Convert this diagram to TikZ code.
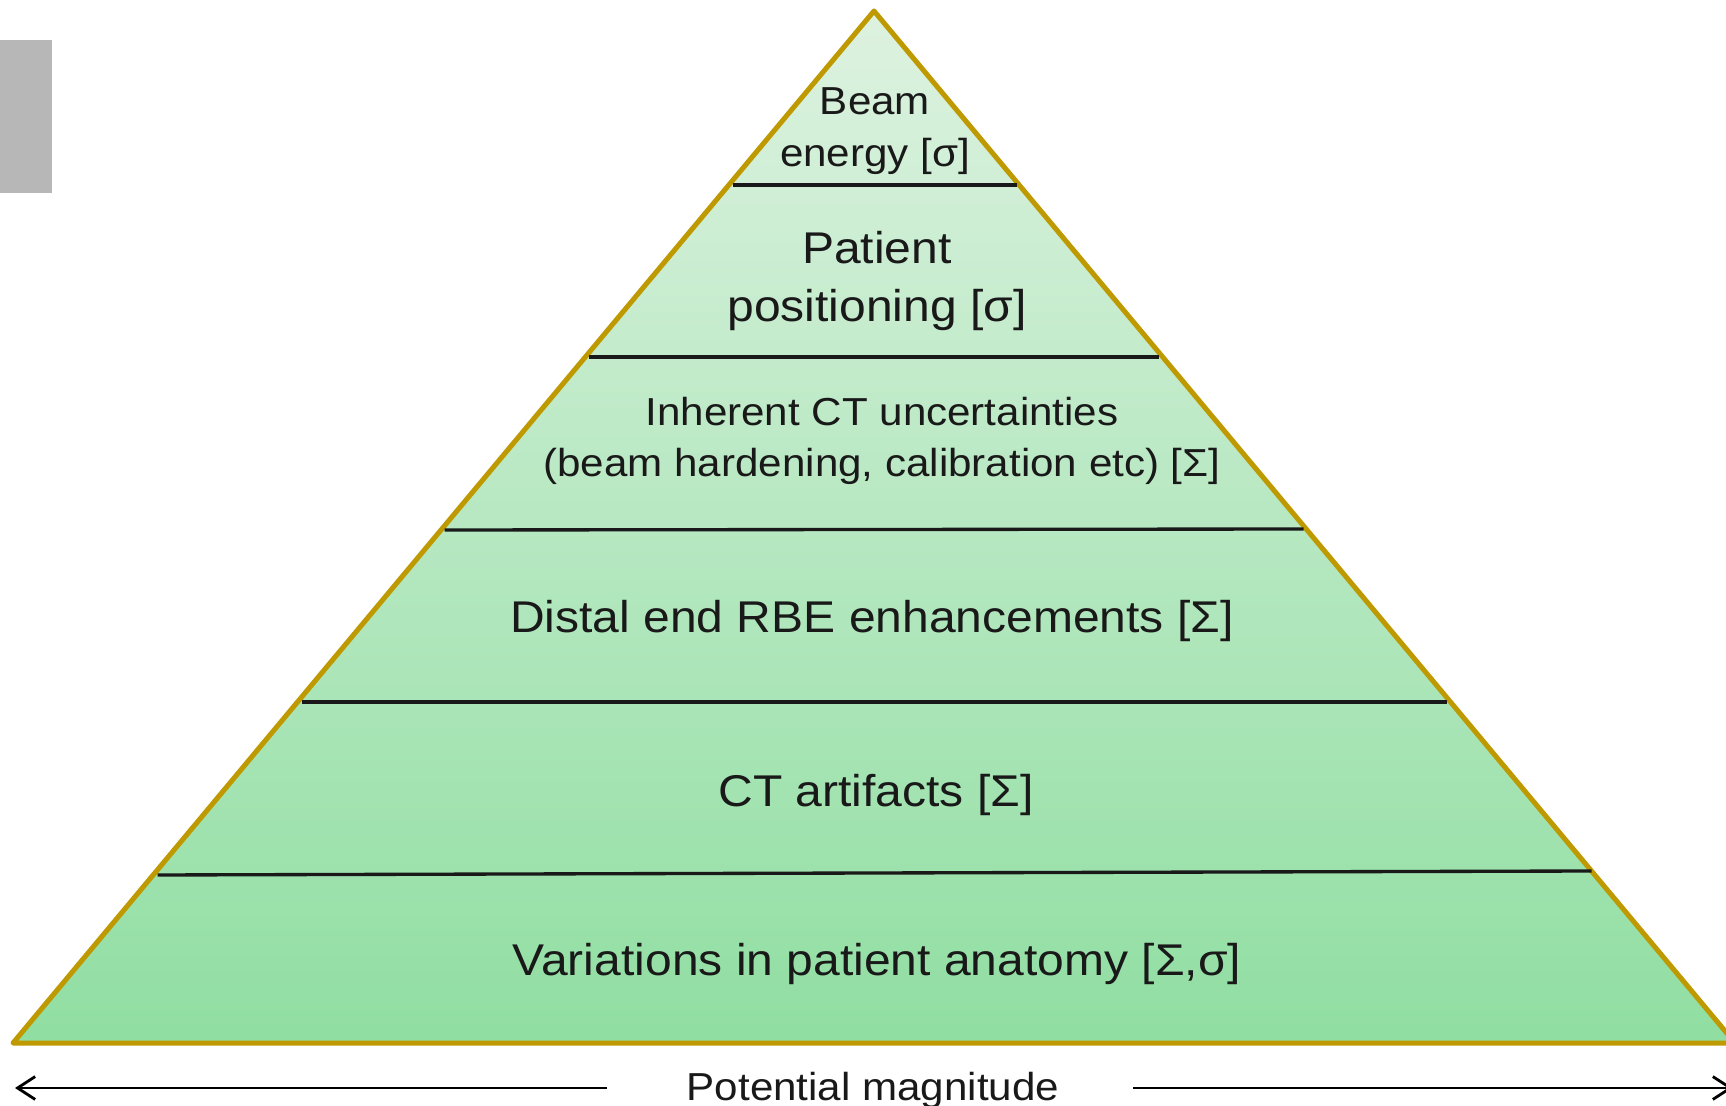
\documentclass[tikz,border=0pt]{standalone}
\usepackage{fontspec}
\setmainfont{Liberation Sans}[FakeStretch=1.08]
\usepackage{tikz}
\usetikzlibrary{arrows.meta}
\usetikzlibrary{calc}
\definecolor{pyrgold}{RGB}{191,153,0}
\definecolor{pyrtop}{RGB}{221,242,224}
\definecolor{pyrbottom}{RGB}{144,222,162}
\definecolor{tabgrey}{RGB}{183,183,183}
\definecolor{divline}{RGB}{25,25,25}
\tikzstyle{divider} = [draw=divline, line width=0.95pt]
\tikzstyle{magline} = [draw, -{Straight Barb[length=5pt,width=6.5pt]}, line width=0.8pt]
\newcommand{\smalltext}{\fontsize{11.1}{14.6}\selectfont}
\newcommand{\bigtext}{\fontsize{12.65}{16.5}\selectfont}

\begin{document}
\begin{tikzpicture}
	\tikzstyle{every node}=[inner sep=0pt, align=center, text=black!90]
	\path[use as bounding box, clip] (0,0) rectangle (17.26,-11.06);

	% ------------------- Grey tab ------------------- %
	\fill[tabgrey] (0,-0.40) rectangle (0.52,-1.93);

	% ------------------- Pyramid ------------------- %
	\coordinate (apex) at (8.74,-0.11);
	\coordinate (left) at (0.13,-10.43);
	\coordinate (right) at (17.35,-10.43);
	\draw[draw=pyrgold, line width=0.05cm, line join=round, top color=pyrtop, bottom color=pyrbottom] (apex) -- (left) -- (right) -- cycle;

	% ------------------- Layer lines ------------------- %
	\draw[divider] ($(apex)!1/6!(left)+(0.02,-0.02)$) -- ($(apex)!1/6!(right)+(-0.01,-0.02)$);
	\draw[divider] ($(apex)!2/6!(left)+(0.02,-0.02)$) -- ($(apex)!2/6!(right)+(-0.02,-0.02)$);
	\draw[divider] ($(apex)!3/6!(left)+(0.01,-0.03)$) -- ($(apex)!3/6!(right)+(-0.01,-0.02)$);
	\draw[divider] ($(apex)!4/6!(left)+(0.02,-0.03)$) -- ($(apex)!4/6!(right)+(-0.01,-0.03)$);
	\draw[divider] ($(apex)!5/6!(left)+(0.01,-0.04)$) -- ($(apex)!5/6!(right)$);

	% ------------------- Layer texts ------------------- %
	\node[font=\smalltext] (beam) at (8.75,-1.31) {Beam\\energy [σ]};
	\node[font=\bigtext] (patient) at (8.77,-2.81) {Patient\\positioning [σ]};
	\node[font=\smalltext] (inherent) at (8.82,-4.41) {Inherent CT uncertainties\\(beam hardening, calibration etc) [Σ]};
	\node[font=\bigtext, anchor=base] (distal) at (8.72,-6.33) {Distal end RBE enhancements [Σ]};
	\node[font=\bigtext, anchor=base] (artifacts) at (8.76,-8.06) {CT artifacts [Σ]};
	\node[font=\bigtext, anchor=base] (anatomy) at (8.77,-9.75) {Variations in patient anatomy [Σ,σ]};

	% ------------------- Magnitude arrows ------------------- %
	\node[font=\smalltext, anchor=base] (magnitude) at (8.73,-11.00) {Potential magnitude};
	\coordinate (magstartl) at (6.07,-10.88);
	\coordinate (magstartr) at (11.33,-10.88);
	\coordinate (magleft) at (0.15,-10.88);
	\coordinate (magright) at (17.33,-10.88);
	\draw[magline] (magstartl) -- (magleft);
	\draw[magline] (magstartr) -- (magright);
\end{tikzpicture}
\end{document}
